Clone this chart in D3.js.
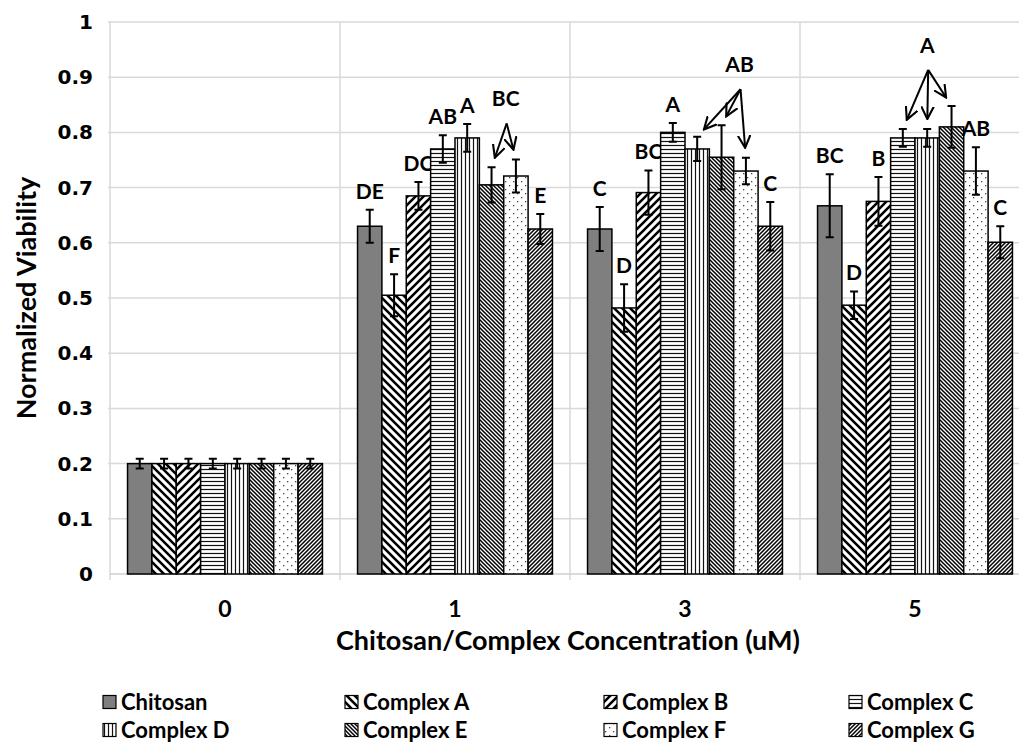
<!DOCTYPE html>
<html>
<head>
<meta charset="utf-8">
<script src="https://cdn.jsdelivr.net/npm/d3@7"></script>
<style>
  body { margin: 0; background: #fff; }
  text { font-family: Lato, "Open Sans", sans-serif; font-weight: bold; fill: #000; font-variant-ligatures: none; }
</style>
</head>
<body>
<script>
// concentrations (x categories) and the series drawn in each group
const groups = ["0", "1", "3", "5"];
const series = ["Chitosan", "Complex A", "Complex B", "Complex C", "Complex D", "Complex E", "Complex F", "Complex G"];

// normalized viability, one value per concentration
const chitosan = [0.200, 0.630, 0.625, 0.667];
const complexA = [0.200, 0.505, 0.482, 0.487];
const complexB = [0.200, 0.685, 0.691, 0.675];
const complexC = [0.200, 0.770, 0.800, 0.790];
const complexD = [0.200, 0.790, 0.770, 0.790];
const complexE = [0.200, 0.705, 0.755, 0.810];
const complexF = [0.200, 0.721, 0.730, 0.730];
const complexG = [0.200, 0.625, 0.630, 0.601];

// error bars (+/-)
const chitosanErr = [0.009, 0.030, 0.040, 0.057];
const complexAErr = [0.009, 0.038, 0.043, 0.025];
const complexBErr = [0.009, 0.025, 0.040, 0.044];
const complexCErr = [0.009, 0.025, 0.017, 0.016];
const complexDErr = [0.009, 0.025, 0.022, 0.016];
const complexEErr = [0.009, 0.032, 0.058, 0.038];
const complexFErr = [0.009, 0.030, 0.024, 0.043];
const complexGErr = [0.009, 0.027, 0.044, 0.029];

// significance letters per group (bar order = series order)
const letters0 = ["", "", "", "", "", "", "", ""];
const letters1 = ["DE", "F", "DC", "AB", "A", "", "", "E"];
const letters3 = ["C", "D", "BC", "A", "", "", "", "C"];
const letters5 = ["BC", "D", "B", "", "", "", "AB", "C"];

// letters shared by several bars, drawn with arrows
const arrowNotes = [
  { group: "1", text: "BC", targets: [5, 6], dx: 2 },
  { group: "3", text: "AB", targets: [4, 5, 6], dx: 18 },
  { group: "5", text: "A", targets: [3, 4, 5], dx: 0 }
];

const yTicks = [0, 0.1, 0.2, 0.3, 0.4, 0.5, 0.6, 0.7, 0.8, 0.9, 1];

const values = [chitosan, complexA, complexB, complexC, complexD, complexE, complexF, complexG];
const errors = [chitosanErr, complexAErr, complexBErr, complexCErr, complexDErr, complexEErr, complexFErr, complexGErr];
const letters = [letters0, letters1, letters3, letters5];

const width = 1019, height = 744;
const plotLeft = 110, plotRight = 1030, plotTop = 22, plotBottom = 574;

const svg = d3.select("body").append("svg")
  .attr("width", width)
  .attr("height", height);

// fill patterns, one per series
const defs = svg.append("defs");
function pattern(id, w, h) {
  return defs.append("pattern")
    .attr("id", id)
    .attr("patternUnits", "userSpaceOnUse")
    .attr("width", w)
    .attr("height", h);
}
function addBg(p, w, h) {
  p.append("rect").attr("width", w).attr("height", h).attr("fill", "#fff");
}

var p = pattern("pA", 8, 8); addBg(p, 8, 8);
p.append("path").attr("d", "M-2,-2L10,10M-2,6L2,10M6,-2L10,2").attr("stroke", "#000").attr("stroke-width", 2.6);
p = pattern("pB", 8, 8); addBg(p, 8, 8);
p.append("path").attr("d", "M-2,10L10,-2M-2,2L2,-2M6,10L10,6").attr("stroke", "#000").attr("stroke-width", 2.6);
p = pattern("pC", 4, 4); addBg(p, 4, 4);
p.append("path").attr("d", "M0,1.5H4").attr("stroke", "#111").attr("stroke-width", 1.2);
p = pattern("pD", 4, 4); addBg(p, 4, 4);
p.append("path").attr("d", "M1.5,0V4").attr("stroke", "#111").attr("stroke-width", 1.2);
p = pattern("pE", 4, 4); addBg(p, 4, 4);
p.append("path").attr("d", "M-1,-1L5,5M-1,3L1,5M3,-1L5,1").attr("stroke", "#000").attr("stroke-width", 1.5);
p = pattern("pF", 8, 8); addBg(p, 8, 8);
p.append("rect").attr("x", 1).attr("y", 1).attr("width", 1.3).attr("height", 1.3).attr("fill", "#444");
p.append("rect").attr("x", 5).attr("y", 5).attr("width", 1.3).attr("height", 1.3).attr("fill", "#444");
p = pattern("pG", 4, 4); addBg(p, 4, 4);
p.append("path").attr("d", "M-1,5L5,-1M-1,1L1,-1M3,5L5,3").attr("stroke", "#000").attr("stroke-width", 1.5);

const fills = ["#7f7f7f", "url(#pA)", "url(#pB)", "url(#pC)", "url(#pD)", "url(#pE)", "url(#pF)", "url(#pG)"];

// arrow head
defs.append("marker")
  .attr("id", "arrow")
  .attr("viewBox", "0 0 10 10")
  .attr("refX", 9).attr("refY", 5)
  .attr("markerWidth", 7).attr("markerHeight", 7)
  .attr("markerUnits", "strokeWidth")
  .attr("orient", "auto")
  .append("path")
  .attr("d", "M0,0.5L9,5L0,9.5")
  .attr("fill", "none")
  .attr("stroke", "#000")
  .attr("stroke-width", 1.5);

// scales
const x0 = d3.scaleBand().domain(groups).range([plotLeft, plotRight]);
const x1 = d3.scaleBand().domain(series).range([0, x0.bandwidth()]).paddingOuter(0.72);
const y = d3.scaleLinear().domain([0, 1]).range([plotBottom, plotTop]);

// grid lines
svg.append("g")
  .selectAll("line")
  .data(yTicks.slice(1))
  .enter()
  .append("line")
  .attr("x1", plotLeft - 2).attr("x2", plotRight)
  .attr("y1", d => y(d)).attr("y2", d => y(d))
  .attr("stroke", "#d9d9d9")
  .attr("stroke-width", 1.5);

svg.append("g")
  .selectAll("line")
  .data(d3.range(groups.length + 1))
  .enter()
  .append("line")
  .attr("x1", i => plotLeft + i * x0.step()).attr("x2", i => plotLeft + i * x0.step())
  .attr("y1", plotTop).attr("y2", plotBottom + 6)
  .attr("stroke", "#d9d9d9")
  .attr("stroke-width", 1.5);

svg.append("line")
  .attr("x1", plotLeft).attr("x2", plotRight)
  .attr("y1", plotBottom).attr("y2", plotBottom)
  .attr("stroke", "#cfcfcf")
  .attr("stroke-width", 1.5);

// y axis labels
const yAxis = svg.append("g")
  .attr("transform", "translate(" + (plotLeft - 8) + ",0)")
  .call(d3.axisLeft(y).tickValues(yTicks).tickSize(0).tickFormat(d3.format("")));
yAxis.select(".domain").remove();
yAxis.selectAll("text")
  .attr("x", -9)
  .style("font-family", "'DejaVu Sans', Verdana, sans-serif")
  .style("font-size", "20px")
  .style("font-weight", "bold");

// x axis labels
const xAxis = svg.append("g")
  .attr("transform", "translate(0," + plotBottom + ")")
  .call(d3.axisBottom(x0).tickSize(0));
xAxis.select(".domain").remove();
xAxis.selectAll("text")
  .attr("y", 27)
  .style("font-family", "Lato, sans-serif")
  .style("font-size", "23px")
  .style("font-weight", "bold");

// axis titles
svg.append("text")
  .attr("x", (plotLeft + plotRight) / 2 - 2)
  .attr("y", 650)
  .attr("text-anchor", "middle")
  .style("font-size", "27px")
  .text("Chitosan/Complex Concentration (uM)");

svg.append("text")
  .attr("transform", "translate(36,298) rotate(-90)")
  .attr("text-anchor", "middle")
  .style("font-size", "27px")
  .text("Normalized Viability");

// bars
const groupG = svg.selectAll("g.group")
  .data(groups)
  .enter()
  .append("g")
  .attr("class", "group")
  .attr("transform", d => "translate(" + x0(d) + ",0)");

const bars = groupG.selectAll("g.bar")
  .data((g, gi) => series.map((s, si) => ({
    group: g, name: s, si: si,
    value: values[si][gi], err: errors[si][gi], letter: letters[gi][si]
  })))
  .enter()
  .append("g")
  .attr("class", "bar");

bars.append("rect")
  .attr("x", d => x1(d.name))
  .attr("y", d => y(d.value))
  .attr("width", x1.bandwidth())
  .attr("height", d => y(0) - y(d.value))
  .attr("fill", d => fills[d.si])
  .attr("stroke", "#000")
  .attr("stroke-width", 1.5);

// error bars
const cx = d => x1(d.name) + x1.bandwidth() / 2;
bars.append("path")
  .attr("d", d => {
    const c = cx(d), t = y(d.value + d.err), b = y(d.value - d.err);
    return "M" + c + "," + t + "V" + b + "M" + (c - 4) + "," + t + "H" + (c + 4) + "M" + (c - 4) + "," + b + "H" + (c + 4);
  })
  .attr("fill", "none")
  .attr("stroke", "#000")
  .attr("stroke-width", 2);

// letters above bars
bars.filter(d => d.letter !== "")
  .append("text")
  .attr("x", d => cx(d))
  .attr("y", d => y(d.value + d.err) - 11)
  .attr("text-anchor", "middle")
  .style("font-size", "21px")
  .text(d => d.letter);

// letters with arrows
arrowNotes.forEach(function (note) {
  const gi = groups.indexOf(note.group);
  const tips = note.targets.map(si => ({
    x: x0(note.group) + x1(series[si]) + x1.bandwidth() / 2,
    y: y(values[si][gi] + errors[si][gi])
  }));
  const lx = d3.mean(tips, t => t.x) + note.dx;
  const ly = d3.min(tips, t => t.y) - 60;
  const apex = { x: lx + 1, y: ly + 24 };

  svg.append("text")
    .attr("x", lx)
    .attr("y", ly + 7)
    .attr("text-anchor", "middle")
    .style("font-size", "21px")
    .text(note.text);

  tips.forEach(function (t) {
    const dx = t.x - apex.x, dy = t.y - apex.y;
    const len = Math.sqrt(dx * dx + dy * dy);
    const k = (len - 10) / len;
    svg.append("line")
      .attr("x1", apex.x).attr("y1", apex.y)
      .attr("x2", apex.x + dx * k).attr("y2", apex.y + dy * k)
      .attr("stroke", "#000")
      .attr("stroke-width", 2)
      .attr("marker-end", "url(#arrow)");
  });
});

// legend
const legendX = [103, 345, 604, 849];
const legendY = [702, 730];
const legend = svg.selectAll("g.legend")
  .data(series)
  .enter()
  .append("g")
  .attr("class", "legend")
  .attr("transform", (d, i) => "translate(" + legendX[i % 4] + "," + legendY[Math.floor(i / 4)] + ")");

legend.append("rect")
  .attr("x", 0).attr("y", -6.5)
  .attr("width", 13).attr("height", 13)
  .attr("fill", (d, i) => fills[i])
  .attr("stroke", "#000")
  .attr("stroke-width", 1.2);

legend.append("text")
  .attr("x", 18)
  .attr("y", 8)
  .style("font-size", "22px")
  .text(d => d);
</script>
</body>
</html>
